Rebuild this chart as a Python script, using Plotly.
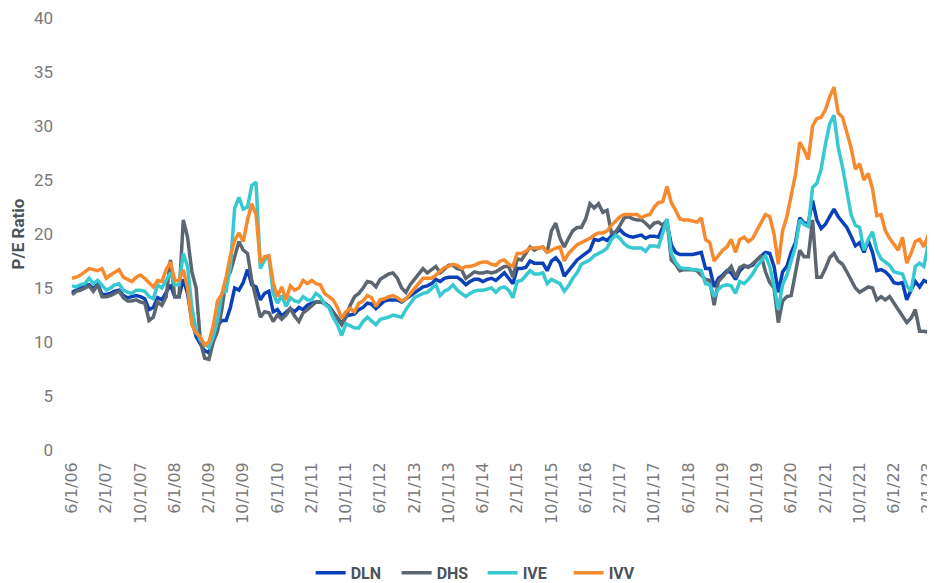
import pandas as pd
import plotly.graph_objects as go

# Monthly dates, 6/1/06 .. 4/1/23 (category labels)
dates = [f"{d.month}/{d.day}/{d.strftime('%y')}" for d in pd.date_range("2006-06-01", "2023-04-01", freq="MS")]

DLN = [14.6, 14.8, 15.0, 15.2, 15.3, 14.9, 15.4, 14.4, 14.4, 14.5, 14.7, 14.8, 14.3, 14.1, 14.2, 14.3, 14.2, 14.0, 13.0, 13.2,
       14.1, 13.9, 14.6, 15.3, 14.2, 14.2, 15.8, 14.5, 12.0, 10.5, 9.8, 9.2, 9.0,
       10.2, 11.5, 12.0, 12.0, 13.2, 15.0, 14.8, 15.5, 16.7, 15.3, 15.1, 13.9, 14.5, 14.7, 12.8, 13.0, 12.4, 12.8,
       13.1, 12.8, 13.2, 13.0, 13.4, 13.6, 13.7, 13.7, 13.6, 13.3, 12.8, 12.2, 11.7, 12.4, 12.5, 12.6, 13.0,
       13.2, 13.6, 13.5, 13.1, 13.5, 13.8, 13.9, 13.9, 13.9, 13.7, 14.0, 14.3, 14.6, 14.9, 15.1, 15.2, 15.4, 15.8,
       15.6, 15.9, 16.0, 16.0, 16.0, 15.7, 15.3, 15.6, 15.8, 15.8, 15.6, 15.8, 15.9, 15.7, 16.0, 16.4,
       15.9, 15.4, 16.8, 16.8, 16.9, 17.5, 17.3, 17.3, 17.3, 16.6, 17.5, 17.8, 17.3, 16.1, 16.6, 17.1, 17.6, 17.9,
       18.2, 18.5, 19.5, 19.4, 19.6, 19.4, 19.8, 20.1, 20.4, 20.0, 19.8, 19.7, 19.8, 19.9, 19.6,
       19.8, 19.8, 19.7, 20.6, 21.0, 19.0, 18.3, 18.1, 18.1, 18.1, 18.1, 18.2, 18.3, 16.8, 16.8, 15.1, 15.9, 16.2,
       16.6, 16.4, 15.8, 16.6, 17.0, 17.0, 17.1, 17.6, 18.0, 18.3, 18.2, 17.0, 14.6, 16.5, 17.0, 18.3,
       19.2, 21.5, 21.0, 21.0, 23.1, 21.3, 20.5, 20.9, 21.6, 22.3, 21.6, 21.1, 20.6, 19.8, 18.9, 19.2, 18.3, 19.4,
       18.3, 16.6, 16.7, 16.5, 16.1, 15.5, 15.4, 15.5, 13.9, 14.8, 15.6, 15.1, 15.7, 15.5, 15.7, 15.7]

DHS = [14.4, 14.7, 14.8, 15.0, 15.2, 14.7, 15.3, 14.2, 14.2, 14.3, 14.5, 14.7, 14.1, 13.8, 13.8, 13.9, 13.7, 13.6, 12.0, 12.3,
       13.7, 13.4, 14.2, 17.6, 14.2, 14.2, 21.3, 19.7, 16.5, 15.0, 10.0, 8.5, 8.4,
       10.0, 11.0, 13.0, 15.8, 16.5, 17.9, 19.3, 18.5, 18.2, 15.7, 13.9, 12.3, 12.8, 12.7, 11.9, 12.5, 12.1, 12.5,
       13.1, 12.4, 11.9, 12.7, 13.0, 13.3, 13.7, 13.7, 13.6, 13.3, 12.7, 12.1, 11.6, 12.3, 13.4, 14.2, 14.5,
       15.0, 15.6, 15.5, 15.1, 15.8, 16.1, 16.3, 16.4, 15.9, 15.0, 14.6, 15.3, 15.8, 16.2, 16.8, 16.4, 16.7, 17.0,
       16.4, 16.8, 17.1, 17.1, 16.8, 16.7, 15.9, 16.2, 16.5, 16.4, 16.4, 16.5, 16.4, 16.5, 16.8, 17.0,
       17.0, 16.0, 17.7, 17.6, 18.2, 18.8, 18.5, 18.7, 18.8, 18.3, 20.3, 21.0, 19.6, 18.8, 19.6, 20.3, 20.6, 20.6,
       21.4, 22.8, 22.4, 22.8, 22.0, 22.2, 20.1, 20.2, 20.8, 21.5, 21.6, 21.4, 21.3, 21.3, 21.0,
       20.6, 21.0, 21.1, 20.8, 21.3, 17.6, 17.2, 16.6, 16.7, 16.7, 16.7, 16.6, 16.2, 15.8, 15.7, 13.4, 15.6, 16.0,
       16.5, 17.0, 16.0, 16.9, 17.1, 16.9, 17.2, 17.6, 18.0, 16.5, 15.5, 15.0, 11.8, 13.8, 14.2, 14.3,
       16.4, 18.5, 17.9, 17.9, 21.3, 16.0, 16.0, 16.8, 17.8, 18.2, 17.5, 17.2, 16.5, 15.8, 15.0, 14.6, 14.9, 15.1,
       15.0, 13.9, 14.2, 13.9, 14.2, 13.6, 13.0, 12.3, 11.8, 12.2, 13.0, 11.0, 11.0, 10.9, 10.7, 10.5]

IVE = [15.2, 15.1, 15.3, 15.4, 15.9, 15.4, 15.7, 15.2, 14.8, 15.0, 15.3, 15.4, 14.8, 14.6, 14.5, 14.8, 14.8, 14.7, 14.2, 14.0,
       15.3, 15.0, 15.7, 16.4, 15.3, 15.3, 18.2, 17.0, 13.2, 11.1, 10.2, 9.9, 9.5,
       10.5, 12.0, 14.5, 14.7, 17.0, 22.4, 23.4, 22.3, 22.5, 24.5, 24.8, 16.8, 17.6, 17.9, 14.5, 13.6, 14.3, 13.3,
       14.1, 13.8, 13.7, 14.2, 13.9, 13.9, 14.5, 14.2, 13.5, 13.2, 12.3, 11.6, 10.6, 11.7, 11.5, 11.3, 11.3,
       11.9, 12.3, 12.0, 11.6, 12.1, 12.2, 12.3, 12.5, 12.4, 12.3, 13.0, 13.6, 14.1, 14.3, 14.5, 14.6, 15.0, 15.3,
       14.3, 14.7, 14.9, 15.3, 14.8, 14.5, 14.2, 14.5, 14.7, 14.8, 14.8, 14.9, 15.0, 14.6, 15.0, 15.1,
       14.8, 14.1, 15.6, 15.7, 16.1, 16.6, 16.3, 16.3, 16.4, 15.4, 15.8, 15.6, 15.4, 14.7, 15.2, 15.9, 16.4, 17.2,
       17.4, 17.6, 18.0, 18.2, 18.4, 18.7, 19.5, 19.9, 19.6, 19.1, 18.8, 18.7, 18.7, 18.7, 18.4,
       18.9, 18.9, 18.8, 20.1, 21.4, 18.2, 17.4, 16.9, 16.8, 16.8, 16.7, 16.7, 16.6, 15.4, 15.3, 14.2, 14.9, 15.2,
       15.3, 15.2, 14.5, 15.6, 15.4, 15.8, 16.3, 17.0, 17.5, 18.0, 17.0, 15.2, 13.0, 15.3, 16.2, 17.4,
       18.8, 21.3, 20.9, 20.7, 24.3, 24.7, 26.0, 28.3, 30.2, 31.0, 28.0, 26.2, 24.2, 21.8, 20.8, 20.6, 18.5, 19.5,
       20.2, 18.5, 17.7, 17.4, 17.1, 16.5, 16.4, 16.3, 15.2, 14.7, 17.0, 17.3, 17.0, 19.0, 20.2, 20.8]

IVV = [15.9, 16.0, 16.2, 16.5, 16.8, 16.7, 16.6, 16.8, 15.9, 16.2, 16.5, 16.7, 16.0, 15.8, 15.6, 16.0, 16.2, 15.9, 15.5, 15.1,
       15.7, 15.6, 16.7, 17.4, 15.7, 15.7, 16.7, 15.0, 11.6, 10.8, 10.5, 9.7, 10.0,
       11.5, 13.8, 14.4, 16.0, 18.0, 19.4, 20.1, 19.3, 21.3, 22.8, 21.8, 17.3, 17.9, 18.0, 15.5, 14.2, 15.1, 13.9,
       15.2, 14.8, 15.0, 15.7, 15.4, 15.7, 15.4, 15.3, 14.5, 14.2, 13.9, 13.2, 12.2, 12.8, 13.1, 12.8, 13.6,
       13.8, 14.3, 14.1, 13.3, 13.9, 14.0, 14.2, 14.3, 14.1, 13.8, 14.0, 14.5, 15.0, 15.5, 15.9, 15.9, 15.9, 16.2,
       16.6, 16.9, 17.0, 17.2, 17.1, 16.8, 17.0, 17.0, 17.1, 17.3, 17.4, 17.4, 17.2, 17.1, 17.5, 17.6,
       17.2, 17.0, 18.2, 18.2, 18.4, 18.7, 18.7, 18.7, 18.8, 18.3, 18.5, 18.7, 18.8, 17.5, 18.2, 18.6, 19.0, 19.2,
       19.4, 19.6, 19.9, 20.1, 20.1, 20.3, 20.8, 21.2, 21.6, 21.8, 21.8, 21.8, 21.8, 21.5, 21.7,
       21.8, 22.5, 22.9, 23.0, 24.4, 22.9, 22.2, 21.4, 21.3, 21.3, 21.2, 21.1, 21.5, 19.5, 19.2, 17.5, 18.0, 18.5,
       18.8, 19.5, 18.3, 19.5, 19.7, 19.3, 19.6, 20.3, 21.0, 21.8, 21.6, 20.0, 17.2, 20.3, 21.6, 23.5,
       25.5, 28.5, 27.8, 26.9, 30.0, 30.7, 30.8, 31.5, 32.7, 33.6, 31.2, 30.8, 29.5, 28.0, 26.0, 26.5, 25.0, 25.6,
       24.2, 21.7, 21.8, 20.3, 19.6, 19.0, 18.5, 19.7, 17.3, 18.2, 19.3, 19.5, 18.8, 19.9, 20.5, 21.2]

series = [("DLN", DLN, "#0b41b8"), ("DHS", DHS, "#5b6670"), ("IVE", IVE, "#36c9d1"), ("IVV", IVV, "#f58a2e")]

fig = go.Figure()
for name, vals, color in series:
    fig.add_trace(go.Scatter(x=dates, y=vals, name=name, mode="lines",
                             line=dict(color=color, width=3.5)))

tick_labels = dates[::8]

fig.update_layout(
    width=935, height=583,
    margin=dict(l=52, r=8, t=10, b=141),
    paper_bgcolor="white", plot_bgcolor="white",
    font=dict(family="Noto Sans, sans-serif", color="#6b6b6b", size=14),
    showlegend=True,
    legend=dict(orientation="h", x=0.483, xanchor="center", yref="container", y=0.031, yanchor="middle",
                font=dict(family="Roboto, sans-serif", size=16, color="#4b535b", weight="bold"),
                traceorder="normal", entrywidth=41, entrywidthmode="pixels"),
)
fig.update_xaxes(type="category", range=[-2.8, 201.6], tickmode="array", tickvals=tick_labels,
                 ticktext=tick_labels, tickangle=-90, showgrid=False, showline=False, zeroline=False,
                 ticks="", automargin=False, ticklabelstandoff=8,
                 tickfont=dict(family="DejaVu Sans, sans-serif", size=16, color="#7a7a7a"))
fig.update_yaxes(range=[0, 40], dtick=5, showgrid=False, showline=False, zeroline=False, ticks="",
                 automargin=False, ticklabelstandoff=6, ticklabeloverflow="allow",
                 tickfont=dict(family="Roboto, sans-serif", size=17, color="#7a7a7a"),
                 title=dict(text="<b>P/E Ratio</b>", font=dict(family="Roboto, sans-serif", size=17, color="#4b535b"),
                            standoff=8))

fig.write_html("out.html")
